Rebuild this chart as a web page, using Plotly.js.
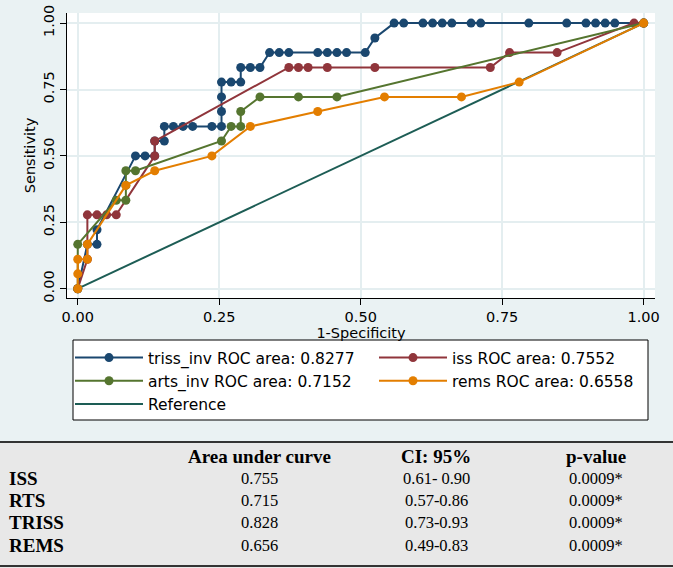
<!DOCTYPE html>
<html><head><meta charset="utf-8">
<script src="https://cdn.plot.ly/plotly-3.0.1.min.js"></script>
<style>html,body{margin:0;padding:0;background:#eaf2f3;}</style>
</head><body>
<div id="chart" style="width:673px;height:568px;"></div>
<script>
// ROC curves (x = 1-Specificity, y = Sensitivity)
const trissX = [0,0.017,0.034,0.034,0.102,0.119,0.136,0.136,0.153,0.153,0.169,0.186,0.203,0.237,0.254,0.254,0.254,0.254,0.271,0.288,0.288,0.305,0.322,0.339,0.356,0.373,0.424,0.441,0.458,0.475,0.508,0.525,0.559,0.576,0.610,0.627,0.644,0.661,0.695,0.712,0.797,0.864,0.898,0.915,0.932,0.949,1];
const trissY = [0,0.167,0.167,0.222,0.500,0.500,0.500,0.556,0.556,0.611,0.611,0.611,0.611,0.611,0.611,0.667,0.722,0.778,0.778,0.778,0.833,0.833,0.833,0.889,0.889,0.889,0.889,0.889,0.889,0.889,0.889,0.944,1,1,1,1,1,1,1,1,1,1,1,1,1,1,1];
const issX = [0,0.017,0.017,0.034,0.051,0.068,0.136,0.136,0.373,0.390,0.407,0.441,0.525,0.729,0.763,0.847,0.983,1];
const issY = [0,0.111,0.278,0.278,0.278,0.278,0.500,0.556,0.833,0.833,0.833,0.833,0.833,0.833,0.889,0.889,1,1];
const artsX = [0,0,0.068,0.085,0.085,0.085,0.102,0.254,0.271,0.288,0.288,0.322,0.390,0.458,1];
const artsY = [0,0.167,0.333,0.333,0.389,0.444,0.444,0.556,0.611,0.611,0.667,0.722,0.722,0.722,1];
const remsX = [0,0,0,0.017,0.017,0.085,0.136,0.237,0.305,0.424,0.542,0.678,0.780,1];
const remsY = [0,0.056,0.111,0.111,0.167,0.389,0.444,0.500,0.611,0.667,0.722,0.722,0.778,1];
const refX = [0,1];
const refY = [0,1];
const seriesNames = ["triss_inv ROC area: 0.8277","iss ROC area: 0.7552","arts_inv ROC area: 0.7152","rems ROC area: 0.6558","Reference"];
const tickVals = [0,0.25,0.5,0.75,1];
const tickText = ["0.00","0.25","0.50","0.75","1.00"];

// summary table
const tableHeader = ["Area under curve","CI: 95%","p-value"];
const tableRows = ["ISS","RTS","TRISS","REMS"];
const aucVals = ["0.755","0.715","0.828","0.656"];
const ciVals = ["0.61- 0.90","0.57-0.86","0.73-0.93","0.49-0.83"];
const pVals = ["0.0009*","0.0009*","0.0009*","0.0009*"];

const W = 673, H = 568;
const M = {l:67, r:18, t:13, b:270};
const plotH = H - M.t - M.b, plotW = W - M.l - M.r;
const py = p => (H - M.b - p) / plotH;   // pixel y -> paper y
const px = p => (p - M.l) / plotW;       // pixel x -> paper x

const FONT = "DejaVu Sans, Arial, sans-serif";
const SERIF = "Liberation Serif, Times New Roman, serif";

function roc(x, y, name, color) {
  return {x:x, y:y, name:name, type:'scatter', mode:'lines+markers',
    line:{color:color, width:2}, marker:{color:color, size:9}};
}
const traces = [
  roc(trissX, trissY, seriesNames[0], '#1a476f'),
  roc(issX, issY, seriesNames[1], '#90353b'),
  roc(artsX, artsY, seriesNames[2], '#55752f'),
  roc(remsX, remsY, seriesNames[3], '#e37e00'),
  {x:refX, y:refY, name:seriesNames[4], type:'scatter', mode:'lines', line:{color:'#1d5d55', width:2}}
];
// reference drawn first so it lies under the curves
const data = [traces[4], traces[0], traces[1], traces[2], traces[3]];
data.forEach((t,i)=>{ t.legendrank = [5,1,2,3,4][i]; });

const legTop = 340, legBot = 420;
const shapes = [
  // legend frame
  {type:'rect', xref:'paper', yref:'paper', x0:px(73), x1:px(648), y0:py(legTop), y1:py(legBot), fillcolor:'#ffffff', line:{color:'#000', width:1}, layer:'below'},
  // table block
  {type:'rect', xref:'paper', yref:'paper', x0:px(0), x1:px(W), y0:py(442), y1:py(H), fillcolor:'#e8e8e8', line:{width:0}, layer:'below'},
  {type:'line', xref:'paper', yref:'paper', x0:px(0), x1:px(W), y0:py(442), y1:py(442), line:{color:'#333', width:2}},
  {type:'line', xref:'paper', yref:'paper', x0:px(0), x1:px(W), y0:py(566), y1:py(566), line:{color:'#333', width:2}}
];
const annotations = [];
const colX = [259, 436, 596];
const rowY = [478, 500, 522, 545];
tableHeader.forEach((h,i)=>annotations.push({xref:'paper', yref:'paper', x:px(colX[i]), y:py(456), text:'<b>'+h+'</b>', showarrow:false, xanchor:'center', yanchor:'middle', font:{family:SERIF, size:19, color:'#000'}}));
tableRows.forEach((r,j)=>{
  annotations.push({xref:'paper', yref:'paper', x:px(7), y:py(rowY[j]), text:'<b>'+r+'</b>', showarrow:false, xanchor:'left', yanchor:'middle', font:{family:SERIF, size:19, color:'#000'}});
  [aucVals[j], ciVals[j], pVals[j]].forEach((v,i)=>annotations.push({xref:'paper', yref:'paper', x:px(colX[i]), y:py(rowY[j]), text:v, showarrow:false, xanchor:'center', yanchor:'middle', font:{family:SERIF, size:16.5, color:'#000'}}));
});

const axisCommon = {
  tickvals:tickVals, ticktext:tickText, ticks:'outside', ticklen:6, tickcolor:'#000', tickwidth:1,
  showline:true, linecolor:'#000', linewidth:1, mirror:false, zeroline:false,
  showgrid:true, gridcolor:'#e4eef0', gridwidth:2,
  tickfont:{family:FONT, size:14.5, color:'#000'}, automargin:false
};
const layout = {
  width:W, height:H, margin:M, paper_bgcolor:'#eaf2f3', plot_bgcolor:'#ffffff',
  xaxis:Object.assign({}, axisCommon, {range:[-0.019,1.02], title:{text:'1-Specificity', font:{family:FONT, size:14.5, color:'#000'}, standoff:2}}),
  yaxis:Object.assign({}, axisCommon, {range:[-0.035,1.038], tickangle:-90, title:{text:'Sensitivity', font:{family:FONT, size:14.5, color:'#000'}, standoff:2}}),
  showlegend:true,
  legend:{orientation:'h', x:-0.001, xanchor:'left', y:py(legTop+1), yanchor:'top', bgcolor:'rgba(0,0,0,0)', borderwidth:0,
    font:{family:FONT, size:15.5, color:'#000'}, itemwidth:68, indentation:5, entrywidth:216, entrywidthmode:'pixels', traceorder:'normal'},
  shapes:shapes, annotations:annotations
};
Plotly.newPlot('chart', data, layout, {displayModeBar:false, staticPlot:true});
</script>
</body></html>
